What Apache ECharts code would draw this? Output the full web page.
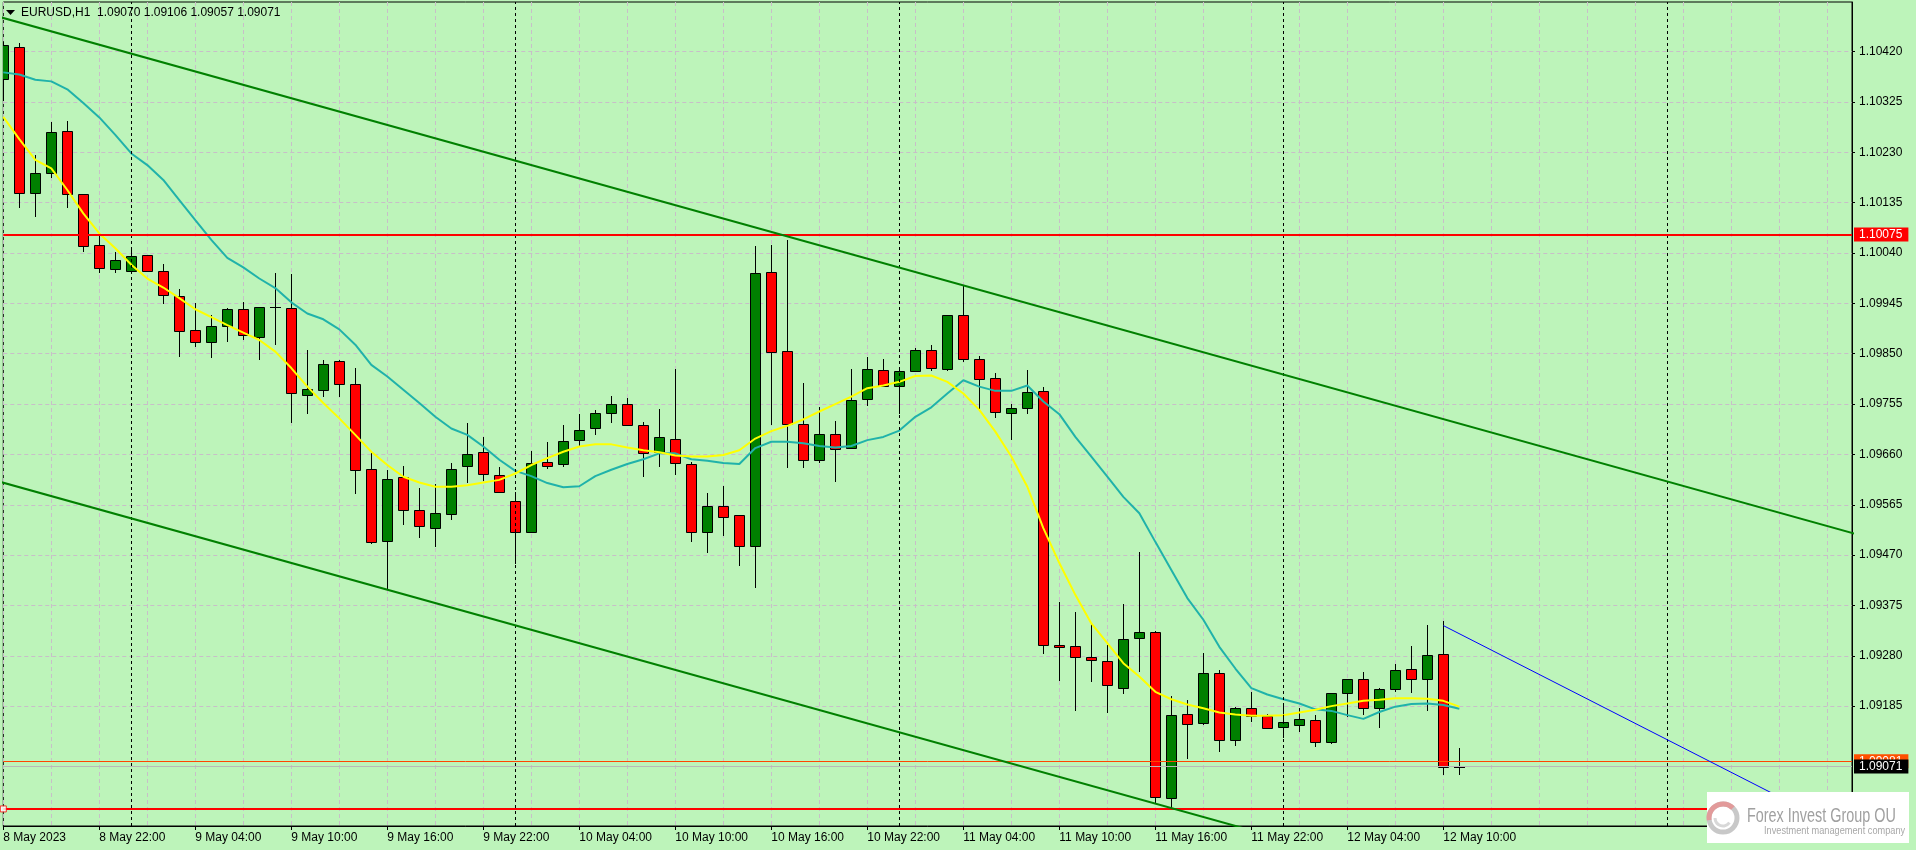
<!DOCTYPE html>
<html><head><meta charset="utf-8">
<script src="https://cdn.jsdelivr.net/npm/echarts@6/dist/echarts.min.js"></script>
<style>html,body{margin:0;padding:0;background:#bdf4ba;}#c{width:1916px;height:850px;}</style>
</head><body><div id="c"></div>
<script>
// ---------- data ----------
const symbolName = 'EURUSD,H1';
const xTickIndex = [0,6,12,18,24,30,36,42,48,54,60,66,72,78,84,90];
const xTickLabels = ['8 May 2023','8 May 22:00','9 May 04:00','9 May 10:00','9 May 16:00','9 May 22:00',
  '10 May 04:00','10 May 10:00','10 May 16:00','10 May 22:00','11 May 04:00','11 May 10:00',
  '11 May 16:00','11 May 22:00','12 May 04:00','12 May 10:00'];
const yTicks = [1.10420,1.10325,1.10230,1.10135,1.10040,1.09945,1.09850,1.09755,1.09660,1.09565,1.09470,1.09375,1.09280,1.09185];

const opens = [1.10368,1.10428,1.10153,1.10192,1.10270,1.10151,1.10055,1.10009,1.10006,1.10036,
1.10007,1.09959,1.09894,1.09873,1.09902,1.09934,1.09881,1.09939,1.09936,1.09773,
1.09781,1.09836,1.09792,1.09632,1.09496,1.09617,1.09556,1.09522,1.09547,1.09638,
1.09664,1.09622,1.09572,1.09514,1.09645,1.09641,1.09687,1.09709,1.09739,1.09756,
1.09715,1.09664,1.09690,1.09641,1.09513,1.09562,1.09545,1.09488,1.10004,1.09855,
1.09717,1.09649,1.09698,1.09672,1.09764,1.09819,1.09790,1.09817,1.09857,1.09821,
1.09923,1.09841,1.09804,1.09739,1.09747,1.09779,1.09300,1.09298,1.09277,1.09271,
1.09219,1.09313,1.09324,1.09011,1.09170,1.09153,1.09247,1.09122,1.09181,1.09166,
1.09145,1.09149,1.09158,1.09117,1.09209,1.09236,1.09181,1.09217,1.09256,1.09236,
1.09283,1.09070];
const highs = [1.10439,1.10436,1.10225,1.10288,1.10289,1.10152,1.10072,1.10042,1.10051,1.10037,
1.10019,1.09972,1.09946,1.09923,1.09936,1.09948,1.09939,1.10002,1.10001,1.09857,
1.09838,1.09838,1.09823,1.09666,1.09630,1.09638,1.09596,1.09605,1.09643,1.09719,
1.09693,1.09637,1.09590,1.09667,1.09683,1.09716,1.09736,1.09744,1.09770,1.09766,
1.09721,1.09745,1.09821,1.09645,1.09587,1.09600,1.09545,1.10053,1.10055,1.10065,
1.09794,1.09749,1.09723,1.09822,1.09844,1.09840,1.09822,1.09860,1.09866,1.09924,
1.09979,1.09845,1.09813,1.09756,1.09819,1.09787,1.09381,1.09362,1.09340,1.09300,
1.09377,1.09475,1.09326,1.09205,1.09197,1.09285,1.09253,1.09183,1.09212,1.09171,
1.09188,1.09181,1.09168,1.09210,1.09237,1.09250,1.09219,1.09264,1.09298,1.09339,
1.09345,1.09106];
const lows = [1.10329,1.10126,1.10110,1.10184,1.10127,1.10044,1.10005,1.10005,1.10005,1.10006,
1.09946,1.09846,1.09865,1.09843,1.09875,1.09878,1.09841,1.09868,1.09722,1.09738,
1.09771,1.09771,1.09587,1.09493,1.09407,1.09528,1.09505,1.09488,1.09539,1.09608,
1.09612,1.09590,1.09455,1.09514,1.09634,1.09639,1.09675,1.09698,1.09722,1.09715,
1.09620,1.09639,1.09624,1.09497,1.09475,1.09508,1.09452,1.09410,1.09717,1.09637,
1.09637,1.09645,1.09610,1.09672,1.09754,1.09790,1.09739,1.09817,1.09819,1.09819,
1.09836,1.09745,1.09730,1.09690,1.09738,1.09286,1.09234,1.09178,1.09233,1.09174,
1.09209,1.09251,1.09005,1.08995,1.09088,1.09151,1.09101,1.09112,1.09157,1.09143,
1.09127,1.09139,1.09109,1.09116,1.09166,1.09171,1.09145,1.09213,1.09211,1.09178,
1.09056,1.09057];
const closes = [1.10433,1.10153,1.10192,1.10268,1.10151,1.10053,1.10011,1.10026,1.10034,1.10007,
1.09960,1.09892,1.09872,1.09902,1.09934,1.09885,1.09938,1.09939,1.09775,1.09783,
1.09830,1.09792,1.09630,1.09494,1.09613,1.09555,1.09524,1.09549,1.09632,1.09661,
1.09624,1.09590,1.09513,1.09643,1.09639,1.09685,1.09707,1.09738,1.09756,1.09715,
1.09662,1.09692,1.09643,1.09514,1.09562,1.09541,1.09487,1.10002,1.09853,1.09717,
1.09649,1.09698,1.09670,1.09762,1.09821,1.09790,1.09817,1.09857,1.09824,1.09923,
1.09840,1.09802,1.09741,1.09747,1.09777,1.09300,1.09296,1.09277,1.09273,1.09224,
1.09311,1.09324,1.09013,1.09168,1.09151,1.09247,1.09122,1.09181,1.09166,1.09143,
1.09156,1.09160,1.09117,1.09209,1.09236,1.09181,1.09217,1.09254,1.09236,1.09281,
1.09071,1.09071];
const maFast = [1.10297,1.10255,1.10216,1.10200,1.10159,1.10115,1.10077,1.10049,1.10018,1.09992,
1.09975,1.09955,1.09934,1.09919,1.09904,1.09890,1.09876,1.09854,1.09823,1.09788,
1.09757,1.09728,1.09697,1.09665,1.09640,1.09618,1.09607,1.09599,1.09599,1.09602,
1.09607,1.09612,1.09624,1.09640,1.09653,1.09665,1.09675,1.09679,1.09679,1.09673,
1.09668,1.09664,1.09658,1.09656,1.09656,1.09659,1.09668,1.09690,1.09704,1.09714,
1.09726,1.09741,1.09755,1.09769,1.09785,1.09790,1.09797,1.09808,1.09809,1.09797,
1.09775,1.09744,1.09703,1.09656,1.09599,1.09521,1.09455,1.09395,1.09341,1.09304,
1.09266,1.09241,1.09212,1.09198,1.09188,1.09181,1.09173,1.09169,1.09167,1.09167,
1.09168,1.09173,1.09178,1.09185,1.09190,1.09195,1.09197,1.09200,1.09200,1.09199,
1.09195,1.09184];
const maSlow = [1.10381,1.10377,1.10367,1.10364,1.10349,1.10323,1.10296,1.10263,1.10228,1.10206,
1.10178,1.10140,1.10102,1.10065,1.10031,1.10013,1.09992,1.09974,1.09947,1.09926,
1.09915,1.09896,1.09867,1.09829,1.09807,1.09782,1.09757,1.09731,1.09709,1.09697,
1.09675,1.09650,1.09629,1.09619,1.09606,1.09598,1.09600,1.09619,1.09631,1.09642,
1.09651,1.09662,1.09662,1.09651,1.09648,1.09644,1.09642,1.09672,1.09684,1.09684,
1.09681,1.09676,1.09673,1.09676,1.09687,1.09693,1.09705,1.09731,1.09749,1.09775,
1.09800,1.09788,1.09780,1.09780,1.09790,1.09760,1.09736,1.09693,1.09656,1.09618,
1.09580,1.09549,1.09495,1.09442,1.09389,1.09348,1.09297,1.09256,1.09219,1.09207,
1.09198,1.09190,1.09179,1.09176,1.09168,1.09161,1.09174,1.09184,1.09189,1.09190,
1.09187,1.09180];
const resistanceLevel = 1.10075;
const supportLevel = 1.08991;
const bidPrice = 1.09071;
const askPrice = 1.09081;
const upperChannel = [[-1, 1.10492], [116, 1.09508]];
const lowerChannel = [[-1, 1.09615], [116, 1.08631]];
const blueTrend = [[90, 1.09337], [113, 1.08983]];
const daySeparators = [8, 32, 56, 80, 104];

// ---------- chart ----------
const FONT = "'Liberation Sans', Arial, sans-serif";
const X_MAX = 115.54, Y_MIN = 1.089588, Y_MAX = 1.105138;
const candleData = opens.map((o, i) => [i, o, highs[i], lows[i], closes[i]]);
const last = candleData.length - 1;
const headerText = symbolName + '  ' + [opens[last], highs[last], lows[last], closes[last]].map(v => v.toFixed(5)).join(' ');

function renderCandle(params, api) {
  const k = api.value(0), o = api.value(1), h = api.value(2), l = api.value(3), c = api.value(4);
  const po = api.coord([k, o]), pc = api.coord([k, c]), ph = api.coord([k, h]), pl = api.coord([k, l]);
  const ix = Math.round(po[0]);
  const children = [{
    type: 'line',
    shape: { x1: ix + 0.5, y1: Math.round(ph[1]), x2: ix + 0.5, y2: Math.round(pl[1]) + 1 },
    style: { stroke: '#000', lineWidth: 1 }
  }];
  const yTop = Math.round(Math.min(po[1], pc[1])), yBot = Math.round(Math.max(po[1], pc[1]));
  if (yBot - yTop < 1) {
    children.push({ type: 'line', shape: { x1: ix - 5, y1: yTop + 0.5, x2: ix + 6, y2: yTop + 0.5 },
      style: { stroke: '#000', lineWidth: 1 } });
  } else {
    children.push({ type: 'rect', shape: { x: ix - 5 + 0.5, y: yTop + 0.5, width: 10, height: yBot - yTop },
      style: { fill: c > o ? '#008000' : '#ff0000', stroke: '#000', lineWidth: 1 } });
  }
  return { type: 'group', children };
}

function priceLabel(bg) {
  return { show: true, position: 'end', distance: 2, formatter: p => Number(p.value).toFixed(5),
    color: '#fff', backgroundColor: bg, fontFamily: FONT, fontSize: 12,
    padding: [1, 6, 0, 5], lineHeight: 13 };
}

const TOP = { zlevel: 1, z: 100, silent: true };
const chart = echarts.init(document.getElementById('c'), null, { renderer: 'canvas' });
chart.setOption({
  animation: false,
  backgroundColor: '#bdf4ba',
  grid: { left: 3.3, right: 64, top: 2, bottom: 24, show: true, borderColor: '#000', borderWidth: 1, backgroundColor: 'transparent' },
  xAxis: [{
    type: 'value', min: 0, max: X_MAX, interval: 3,
    axisLine: { show: true, onZero: false, lineStyle: { color: '#000', width: 1 } },
    axisTick: { show: false }, axisLabel: { show: false },
    splitLine: { show: true, lineStyle: { color: '#c8bec8', type: [4, 3], width: 1 } }
  }, {
    type: 'value', min: 0, max: X_MAX, position: 'bottom',
    axisLine: { show: false, onZero: false },
    splitLine: { show: false },
    axisTick: { show: true, customValues: xTickIndex, length: 4, lineStyle: { color: '#000' } },
    axisLabel: { show: true, customValues: xTickIndex, align: 'left', margin: 6,
      formatter: v => { const i = xTickIndex.indexOf(Math.round(v)); return i >= 0 ? xTickLabels[i] : ''; },
      color: '#000', fontFamily: FONT, fontSize: 12 }
  }],
  yAxis: {
    type: 'value', position: 'right', min: Y_MIN, max: Y_MAX, scale: true,
    axisLine: { show: true, onZero: false, lineStyle: { color: '#000', width: 1 } },
    axisTick: { show: true, customValues: yTicks, length: 3, lineStyle: { color: '#000' } },
    axisLabel: { show: true, customValues: yTicks, formatter: v => v.toFixed(5), margin: 7,
      color: '#000', fontFamily: FONT, fontSize: 12 },
    splitLine: { show: true, lineStyle: { color: '#c8bec8', type: [4, 3], width: 1 } }
  },
  series: [
    { // day separators
      type: 'line', data: [], z: 1, silent: true,
      markLine: { symbol: 'none', silent: true, precision: 5, label: { show: false },
        lineStyle: { color: '#000', type: [3, 3], width: 1 },
        data: daySeparators.map(v => ({ xAxis: v })) }
    },
    {
      type: 'custom', name: 'candles', z: 2, clip: true,
      renderItem: renderCandle, encode: { x: 0, y: [1, 2, 3, 4] }, data: candleData
    },
    { type: 'line', name: 'MA slow', z: 3, data: maSlow.map((v, i) => [i, v]), showSymbol: false, symbol: 'none',
      lineStyle: { color: '#20b2aa', width: 2 } },
    { type: 'line', name: 'MA fast', z: 3, data: maFast.map((v, i) => [i, v]), showSymbol: false, symbol: 'none',
      lineStyle: { color: '#ffff00', width: 2 } },
    { // horizontal levels and price lines
      type: 'line', data: [], z: 4, silent: true,
      markLine: { symbol: 'none', silent: true, precision: 5,
        data: [
          { yAxis: askPrice, lineStyle: { color: '#ff4500', width: 1, type: 'solid' }, label: priceLabel('#ff5000') },
          { yAxis: bidPrice, lineStyle: { color: '#b8b8b8', width: 1, type: 'solid' }, label: priceLabel('#000') },
          { yAxis: resistanceLevel, lineStyle: { color: '#ff0000', width: 2, type: 'solid' }, label: priceLabel('#ff0000') },
          { yAxis: supportLevel, lineStyle: { color: '#ff0000', width: 2, type: 'solid' }, label: priceLabel('#ff0000') }
        ] }
    },
    { type: 'scatter', z: 5, silent: true, data: [[0, supportLevel]], symbol: 'rect', symbolSize: 6,
      itemStyle: { color: '#fff', borderColor: '#ff0000', borderWidth: 1 } },
    { type: 'line', z: 5, data: upperChannel, symbol: 'none', clip: true, lineStyle: { color: '#008000', width: 2 } },
    { type: 'line', z: 5, data: lowerChannel, symbol: 'none', clip: true, lineStyle: { color: '#008000', width: 2 } },
    { type: 'line', z: 5, data: blueTrend, symbol: 'none', clip: true, lineStyle: { color: '#0000ff', width: 1 } }
  ],
  graphic: [
    Object.assign({ type: 'polygon', shape: { points: [[6, 10], [15, 10], [10.5, 15]] }, style: { fill: '#000' } }, TOP),
    Object.assign({ type: 'text', x: 21, y: 13, style: { text: headerText, fill: '#000', font: '12px ' + FONT, verticalAlign: 'middle' } }, TOP),
    Object.assign({ type: 'rect', shape: { x: 1707, y: 792, width: 202, height: 51 }, style: { fill: '#ffffff' } }, TOP),
    Object.assign({ type: 'circle', shape: { cx: 1723, cy: 818, r: 14 }, style: { fill: 'none', stroke: '#c8c8c8', lineWidth: 5 } }, TOP, { z: 101 }),
    Object.assign({ type: 'arc', shape: { cx: 1723, cy: 818, r: 14, startAngle: Math.PI * 0.95, endAngle: Math.PI * 1.75 }, style: { fill: 'none', stroke: '#e29a9a', lineWidth: 5 } }, TOP, { z: 102 }),
    Object.assign({ type: 'arc', shape: { cx: 1723, cy: 818, r: 8, startAngle: Math.PI * 0.2, endAngle: Math.PI * 1.0 }, style: { fill: 'none', stroke: '#d8d8d8', lineWidth: 3 } }, TOP, { z: 102 }),
    Object.assign({ type: 'text', x: 1747, y: 816, scaleX: 0.72, originX: 0, style: { text: 'Forex Invest Group OU', fill: '#a0a0a0', font: '20px ' + FONT, verticalAlign: 'middle' } }, TOP, { z: 103 }),
    Object.assign({ type: 'text', x: 1764, y: 831, scaleX: 0.92, originX: 0, style: { text: 'Investment management company', fill: '#a8a8a8', font: '10px ' + FONT, verticalAlign: 'middle' } }, TOP, { z: 103 })
  ]
});
</script></body></html>
